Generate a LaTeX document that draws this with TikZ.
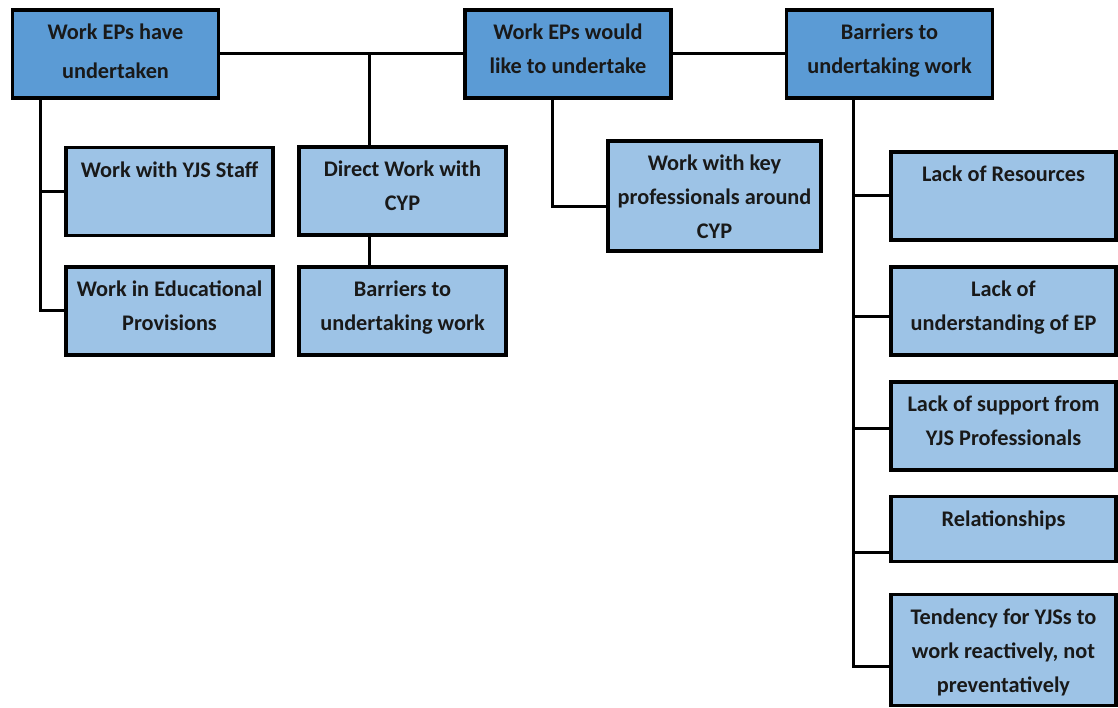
\documentclass[tikz,border=0pt]{standalone}
\usepackage{fontspec}
\setmainfont{Carlito}
\usepackage{xcolor}
\definecolor{topblue}{HTML}{5B9BD5}
\definecolor{subblue}{HTML}{9DC3E6}
% text sits at the top of each box, as in the original
\newcommand{\cell}[3]{\parbox[c][#2][t]{#1}{\centering\vspace*{6pt}\strut #3}}

\begin{document}
\begin{tikzpicture}[x=1pt,y=-1pt,
	box/.style={draw=black, line width=3.6pt, fill=subblue, inner sep=0pt, outer sep=0pt,
		font=\bfseries\fontsize{22.3}{34}\selectfont, text=black!90},
	topbox/.style={box, fill=topblue},
	link/.style={line width=3pt}]
	\useasboundingbox (0,0) rectangle (1118,708);
	% fila superior
	\node[topbox] (have) at (115.5,54) {\cell{206pt}{88pt}{\setlength{\baselineskip}{39pt}Work EPs have\\undertaken}};
	\node[topbox] (like) at (568,54) {\cell{206pt}{88pt}{Work EPs would\\like to undertake}};
	\node[topbox] (barriers) at (889.5,54) {\cell{206pt}{88pt}{Barriers to\\undertaking work}};
	% rama izquierda
	\node[box] (yjs) at (169.5,191.5) {\cell{207pt}{88pt}{Work with YJS Staff}};
	\node[box] (edu) at (169.5,311) {\cell{207pt}{88pt}{Work in Educational\\Provisions}};
	\node[box] (direct) at (402.5,191) {\cell{207pt}{88pt}{Direct Work with\\CYP}};
	\node[box] (midbar) at (402.5,311) {\cell{207pt}{88pt}{Barriers to\\undertaking work}};
	% rama central
	\node[box] (keyprof) at (714.5,196) {\cell{213pt}{110pt}{Work with key\\professionals around\\CYP}};
	% rama derecha
	\node[box] (res) at (1003.5,196) {\cell{225pt}{88pt}{Lack of Resources}};
	\node[box] (underst) at (1003.5,311) {\cell{225pt}{88pt}{Lack of\\understanding of EP}};
	\node[box] (support) at (1003.5,426) {\cell{225pt}{88pt}{Lack of support from\\YJS Professionals}};
	\node[box] (relat) at (1003.5,529) {\cell{225pt}{65pt}{Relationships}};
	\node[box] (tend) at (1003.5,650) {\cell{225pt}{111pt}{Tendency for YJSs to\\work reactively, not\\preventatively}};
	% conectores
	\draw[link] (have.east) -- (like.west);
	\draw[link] (like.east) -- (barriers.west);
	\draw[link] (have.east -| 369,0) -- (direct.north -| 369,0);
	\draw[link] (direct.south -| 369,0) -- (midbar.north -| 369,0);
	\draw[link] (have.south -| 40,0) |- (yjs.west);
	\draw[link] (have.south -| 40,0) |- (edu.west);
	\draw[link] (like.south -| 552,0) |- (keyprof.west |- 0,207);
	\draw[link] (barriers.south -| 853,0) |- (res.west);
	\draw[link] (barriers.south -| 853,0) |- (underst.west |- 0,317);
	\draw[link] (barriers.south -| 853,0) |- (support.west |- 0,428);
	\draw[link] (barriers.south -| 853,0) |- (relat.west |- 0,552);
	\draw[link] (barriers.south -| 853,0) |- (tend.west |- 0,666);
\end{tikzpicture}
\end{document}
